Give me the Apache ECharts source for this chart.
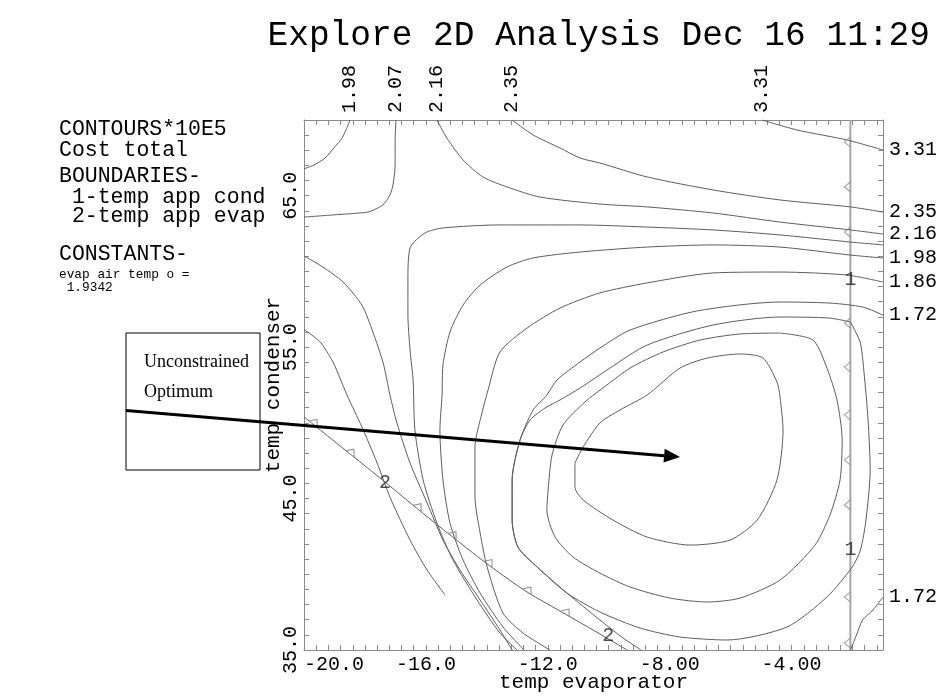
<!DOCTYPE html>
<html><head><meta charset="utf-8">
<script src="https://cdn.jsdelivr.net/npm/echarts@6.0.0/dist/echarts.min.js"></script>
<style>html,body{margin:0;padding:0;background:#fff}#c{width:943px;height:696px}</style>
</head><body><div id="c"></div>
<script>
// ---- axis tick labels ----
const xTickValues = [-20, -16, -12, -8, -4];
const xTickText = ['-20.0', '-16.0', '-12.0', '-8.00', '-4.00'];
const yTickValues = [35, 45, 55, 65];
const yTickText = ['35.0', '45.0', '55.0', '65.0'];
// contour labels where lines meet the top / right edges
const topLabelX = [-18.49, -16.98, -15.64, -13.17, -4.97];
const topLabelText = ['1.98', '2.07', '2.16', '2.35', '3.31'];
const rightLabelY = [68.02, 63.92, 62.47, 60.89, 59.30, 57.12, 38.50];
const rightLabelText = ['3.31', '2.35', '2.16', '1.98', '1.86', '1.72', '1.72'];

// ---- contour lines (temp evaporator, temp condenser) ----
const c331 = [[-4.97,70],[-3.82,69.34],[-2.18,68.68],[-1.0,68.02]];
const c235 = [[-13.17,70],[-12.48,69.01],[-11.60,68.15],[-10.94,67.49],[-10.29,67.16],[-8.74,66.24],[-6.58,65.38],[-4.38,64.72],[-2.07,64.26],[-1.0,63.92]];
const c216 = [[-15.64,70],[-15.31,68.81],[-14.78,67.36],[-14.13,66.24],[-13.34,65.58],[-12.25,64.91],[-10.29,64.45],[-8.74,64.26],[-6.58,63.86],[-4.38,63.26],[-2.07,62.74],[-1.0,62.47]];
const c207a = [[-16.98,70],[-17.01,68.68],[-17.01,67.03],[-17.08,65.71],[-17.18,65.05],[-17.41,64.39],[-17.64,64.13],[-17.90,63.92],[-19.05,63.73],[-20,63.59]];
const c198a = [[-18.49,70],[-18.60,69.45],[-18.75,68.81],[-19.00,68.20],[-19.31,67.49],[-19.70,67.00],[-20,66.78]];
const c207b = [[-1.0,61.75],[-2.07,61.94],[-4.38,62.41],[-6.58,62.74],[-8.74,62.93],[-10.94,63.07],[-13.57,63.07],[-15.44,62.87],[-16.03,62.54],[-16.52,61.55],[-16.59,59.43],[-16.59,57.12],[-16.52,54.81],[-16.42,52.83],[-16.36,49.53],[-16.09,46.23],[-15.64,43.39],[-15.11,40.94],[-14.32,38.30],[-13.57,36.12],[-13.01,35]];
const c198b = [[-1.0,60.89],[-2.07,61.08],[-4.38,61.61],[-6.58,61.75],[-8.74,61.61],[-10.94,61.28],[-12.48,60.89],[-13.34,60.29],[-14.22,59.10],[-14.78,57.78],[-15.21,56.00],[-15.44,53.82],[-15.47,51.84],[-15.54,49.53],[-15.44,46.23],[-15.21,43.39],[-14.78,40.94],[-14.22,38.76],[-13.47,36.52],[-12.78,35]];
const c186 = [[-1.0,59.30],[-2.18,59.76],[-4.38,59.96],[-6.58,59.90],[-8.74,59.24],[-10.29,58.58],[-11.60,57.58],[-12.68,56.26],[-13.57,54.68],[-13.96,52.17],[-14.16,50.65],[-14.39,48.41],[-14.39,45.10],[-14.22,42.73],[-13.99,40.48],[-13.47,37.44],[-12.81,36.12],[-11.93,35]];
const c172 = [[-1.0,57.12],[-1.67,57.65],[-2.74,57.91],[-4.38,57.98],[-7.10,57.39],[-9.30,56.13],[-10.29,54.94],[-10.94,54.02],[-11.70,52.83],[-12.03,51.84],[-12.48,50.85],[-12.91,48.87],[-13.17,46.23],[-13.17,43.58],[-12.98,41.80],[-12.35,40.48],[-11.37,38.76],[-10.29,36.98],[-9.53,35.79],[-8.94,35]];
const c172b = [[-1.0,38.50],[-1.33,37.64],[-1.67,36.98],[-1.87,35.99],[-2.07,35]];
const ring3 = [[-2.07,56.66],[-2.74,56.92],[-4.38,56.99],[-6.58,56.46],[-8.74,55.14],[-9.96,53.62],[-10.94,52.30],[-11.60,51.51],[-12.09,50.98],[-12.58,50.19],[-12.91,48.87],[-13.17,46.23],[-13.17,43.58],[-12.98,41.80],[-12.35,40.48],[-11.37,38.76],[-10.29,37.51],[-8.97,36.45],[-7.66,35.86],[-6.12,35.66],[-4.15,36.52],[-2.84,38.50],[-2.01,40.48],[-1.74,41.60],[-1.56,43.58],[-1.42,46.89],[-1.49,50.19],[-1.60,52.83],[-1.74,55.27],[-1.98,56.33],[-2.07,56.66]];
const ring2 = [[-4.38,55.93],[-3.30,55.47],[-2.84,53.62],[-2.51,51.51],[-2.34,48.87],[-2.41,46.23],[-2.74,43.92],[-3.23,41.93],[-4.38,39.62],[-5.69,38.43],[-6.77,38.17],[-7.99,38.43],[-9.30,39.16],[-10.29,40.08],[-11.17,41.14],[-11.76,42.46],[-12.03,44.25],[-11.99,45.57],[-11.86,47.88],[-11.50,49.86],[-10.78,51.38],[-10.06,52.50],[-9.30,53.62],[-8.22,54.68],[-7.00,55.47],[-5.69,55.87],[-4.38,55.93]];
const ring1 = [[-11.11,47.35],[-11.11,45.76],[-10.84,44.91],[-9.86,43.58],[-8.74,42.46],[-7.33,41.93],[-6.02,42.26],[-5.13,43.58],[-4.48,46.23],[-4.28,49.53],[-4.38,51.71],[-4.48,52.70],[-4.94,54.28],[-5.69,54.55],[-6.77,54.28],[-7.66,53.62],[-8.74,51.84],[-9.63,50.85],[-10.29,49.99],[-10.84,48.41],[-11.11,47.35]];
const cG = [[-20,56.16],[-19.47,55.34],[-19.05,54.02],[-18.82,52.96],[-18.59,51.84],[-18.10,49.73],[-17.60,47.35],[-17.18,45.10],[-16.52,42.26],[-15.96,40.28],[-15.37,38.63]];
const cF = [[-20,61.02],[-19.38,60.29],[-18.72,59.30],[-18.10,57.78],[-17.74,56.00],[-17.41,54.02],[-17.28,52.83],[-17.18,51.84],[-16.95,49.99],[-16.52,47.35],[-15.96,44.71],[-15.44,42.26],[-14.88,40.28],[-14.22,38.30],[-13.57,36.32],[-13.17,35]];

// ---- constraint boundaries ----
const b1x = -2.07;                 // boundary 1: temp app cond
const b1TriY = [68.55, 65.58, 62.60, 56.59, 53.69, 50.52, 47.55, 44.58, 38.50, 35.46];
const b1LabelY = [59.43, 41.60];
const b2 = [[-20,50.39],[-18.65,48.21],[-17.34,46.09],[-16.19,44.18],[-15.04,42.33],[-13.90,40.55],[-12.68,38.83],[-11.43,37.38],[-10.29,36.06],[-9.40,35]];
const b2Tri = [[-19.70,49.91],[-18.49,47.94],[-16.29,44.34],[-15.14,42.49],[-13.96,40.65],[-12.68,38.83],[-11.43,37.38]];
const b2Label = [[-17.34,46.03],[-10.02,35.92]];

const contours = [c331, c235, c216, c207a, c198a, c207b, c198b, c186, c172, c172b, ring3, ring2, ring1, cG, cF];

const MONO = '"Liberation Mono", "Courier New", monospace';
const LINE = '#5e5e5e';
const FRAME = '#8a8a8a';

function lookup(vals, texts) {
  return function (v) {
    for (let i = 0; i < vals.length; i++) if (Math.abs(v - vals[i]) < 1e-6) return texts[i];
    return '';
  };
}

const chart = echarts.init(document.getElementById('c'), null, {renderer: 'canvas'});

const axisCommon = {
  axisLine: {show: true, lineStyle: {color: FRAME, width: 1}},
  axisTick: {show: true, inside: true, length: 5, lineStyle: {color: FRAME, width: 1}},
  splitLine: {show: false}
};

const series = contours.map((pts) => ({
  type: 'line', data: pts, showSymbol: false, symbol: 'none', smooth: 0.25,
  lineStyle: {color: LINE, width: 1}, silent: true, z: 2
}));

series.push({
  type: 'line', data: [[b1x, 35], [b1x, 70]], showSymbol: false, symbol: 'none',
  lineStyle: {color: '#a6a6a6', width: 2}, silent: true, z: 1
});
series.push({
  type: 'line', data: b2, showSymbol: false, symbol: 'none', smooth: 0.25,
  lineStyle: {color: LINE, width: 1}, silent: true, z: 2
});
series.push({
  type: 'scatter', data: b1TriY.map(y => [b1x, y]),
  symbol: 'path://M6,0L0,5L6,10', symbolSize: [6, 10], symbolOffset: [-3, 0],
  itemStyle: {color: 'none', borderColor: '#8a8a8a', borderWidth: 1}, silent: true, z: 3
});
series.push({
  type: 'scatter', data: b2Tri,
  symbol: 'path://M6,0L0,5L6,10', symbolSize: [6, 10], symbolRotate: -128, symbolOffset: [2, -2.5],
  itemStyle: {color: 'none', borderColor: '#7a7a7a', borderWidth: 1}, silent: true, z: 3
});
series.push({
  type: 'scatter', data: b1LabelY.map(y => [b1x, y]), symbolSize: 0,
  label: {show: true, position: 'inside', formatter: '1', fontFamily: MONO, fontSize: 20, color: '#222'},
  silent: true, z: 4
});
series.push({
  type: 'scatter', data: b2Label, symbolSize: 0,
  label: {show: true, position: 'inside', formatter: '2', fontFamily: MONO, fontSize: 20, color: '#222'},
  silent: true, z: 4
});

const option = {
  animation: false,
  backgroundColor: '#fff',
  grid: {left: 304, right: 60, top: 120, bottom: 46, containLabel: false, outerBoundsMode: 'none'},
  xAxis: [
    Object.assign({}, axisCommon, {
      type: 'value', position: 'bottom', min: -20, max: -1, interval: 0.4,
      axisLabel: {customValues: xTickValues, formatter: lookup(xTickValues, xTickText), margin: 5,
        color: '#000', fontFamily: MONO, fontSize: 20, alignMinLabel: 'left'},
      name: 'temp evaporator', nameLocation: 'middle', nameGap: 22, nameMoveOverlap: false,
      nameTextStyle: {fontFamily: MONO, fontSize: 21, color: '#000'}
    }),
    Object.assign({}, axisCommon, {
      type: 'value', position: 'top', min: -20, max: -1, interval: 0.4,
      axisLabel: {customValues: topLabelX, formatter: lookup(topLabelX, topLabelText), rotate: -90, margin: 7,
        color: '#000', fontFamily: MONO, fontSize: 20}
    })
  ],
  yAxis: [
    Object.assign({}, axisCommon, {
      type: 'value', position: 'left', min: 35, max: 70, interval: 1,
      axisLabel: {customValues: yTickValues, formatter: lookup(yTickValues, yTickText), rotate: 90, margin: 3,
        color: '#000', fontFamily: MONO, fontSize: 20},
      name: 'temp condenser', nameLocation: 'middle', nameGap: 20, nameRotate: 90, nameMoveOverlap: false,
      nameTextStyle: {fontFamily: MONO, fontSize: 21, color: '#000'}
    }),
    Object.assign({}, axisCommon, {
      type: 'value', position: 'right', min: 35, max: 70, interval: 1,
      axisLabel: {customValues: rightLabelY, formatter: lookup(rightLabelY, rightLabelText), margin: 6,
        color: '#000', fontFamily: MONO, fontSize: 20}
    })
  ],
  series: series,
  graphic: {elements: [
    {type: 'text', x: 930, y: 36, z: 10, style: {text: 'Explore 2D Analysis Dec 16 11:29', font: '34.5px ' + MONO, fill: '#000', textAlign: 'right', textVerticalAlign: 'middle', align: 'right', verticalAlign: 'middle'}},
    {type: 'text', x: 59, y: 129, style: {text: 'CONTOURS*10E5', font: '21.5px ' + MONO, fill: '#000', textVerticalAlign: 'middle', verticalAlign: 'middle'}},
    {type: 'text', x: 59, y: 150, style: {text: 'Cost total', font: '21.5px ' + MONO, fill: '#000', textVerticalAlign: 'middle', verticalAlign: 'middle'}},
    {type: 'text', x: 59, y: 176, style: {text: 'BOUNDARIES-', font: '21.5px ' + MONO, fill: '#000', textVerticalAlign: 'middle', verticalAlign: 'middle'}},
    {type: 'text', x: 59, y: 197, style: {text: ' 1-temp app cond', font: '21.5px ' + MONO, fill: '#000', textVerticalAlign: 'middle', verticalAlign: 'middle'}},
    {type: 'text', x: 59, y: 216, style: {text: ' 2-temp app evap', font: '21.5px ' + MONO, fill: '#000', textVerticalAlign: 'middle', verticalAlign: 'middle'}},
    {type: 'text', x: 59, y: 254, style: {text: 'CONSTANTS-', font: '21.5px ' + MONO, fill: '#000', textVerticalAlign: 'middle', verticalAlign: 'middle'}},
    {type: 'text', x: 59, y: 275, style: {text: 'evap air temp o =', font: '12.8px ' + MONO, fill: '#000', textVerticalAlign: 'middle', verticalAlign: 'middle'}},
    {type: 'text', x: 59, y: 288, style: {text: ' 1.9342', font: '12.8px ' + MONO, fill: '#000', textVerticalAlign: 'middle', verticalAlign: 'middle'}},
    {type: 'rect', z: 20, shape: {x: 126, y: 333, width: 134, height: 137}, style: {fill: '#fff', stroke: '#000', lineWidth: 1}},
    {type: 'text', z: 21, x: 144, y: 362, style: {text: 'Unconstrained', font: '18px "Liberation Serif", "Times New Roman", serif', fill: '#000', textVerticalAlign: 'middle', verticalAlign: 'middle'}},
    {type: 'text', z: 21, x: 144, y: 392, style: {text: 'Optimum', font: '18px "Liberation Serif", "Times New Roman", serif', fill: '#000', textVerticalAlign: 'middle', verticalAlign: 'middle'}},
    {type: 'line', z: 22, shape: {x1: 126, y1: 410.6, x2: 664.1, y2: 455.7}, style: {stroke: '#000', lineWidth: 3}},
    {type: 'polygon', z: 22, shape: {points: [[680, 457], [663.5, 462.6], [664.7, 448.7]]}, style: {fill: '#000'}}
  ]}
};
chart.setOption(option);
</script>
</body></html>
